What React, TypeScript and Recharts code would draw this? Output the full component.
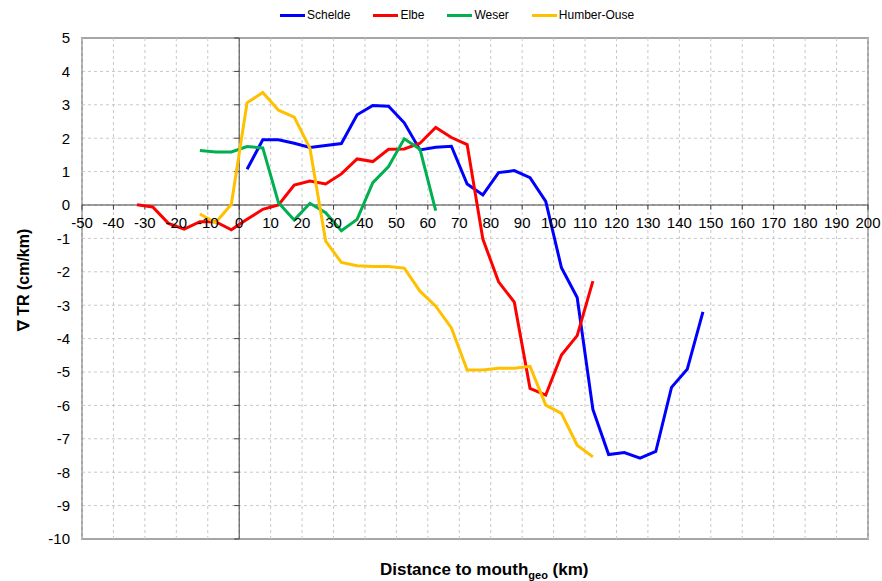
import { LineChart, Line, XAxis, YAxis, CartesianGrid, ReferenceLine, ReferenceArea, ReferenceDot } from 'recharts';

const xTicks = [-50, -40, -30, -20, -10, 0, 10, 20, 30, 40, 50, 60, 70, 80, 90, 100, 110, 120, 130, 140, 150, 160, 170, 180, 190, 200];
const yTicks = [-10, -9, -8, -7, -6, -5, -4, -3, -2, -1, 0, 1, 2, 3, 4, 5];

// Schelde
const scheldeKm = [2.5, 7.5, 12.5, 17.5, 22.5, 27.5, 32.5, 37.5, 42.5, 47.5, 52.5, 57.5, 62.5, 67.5, 72.5, 77.5, 82.5, 87.5, 92.5, 97.5, 102.5, 107.5, 112.5, 117.5, 122.5, 127.5, 132.5, 137.5, 142.5, 147.5];
const scheldeVal = [1.07, 1.95, 1.95, 1.85, 1.72, 1.78, 1.84, 2.7, 2.98, 2.96, 2.46, 1.65, 1.73, 1.76, 0.63, 0.3, 0.97, 1.03, 0.82, 0.11, -1.88, -2.77, -6.12, -7.47, -7.41, -7.58, -7.38, -5.46, -4.92, -3.2];

// Elbe
const elbeKm = [-32.5, -27.5, -22.5, -17.5, -12.5, -7.5, -2.5, 2.5, 7.5, 12.5, 17.5, 22.5, 27.5, 32.5, 37.5, 42.5, 47.5, 52.5, 57.5, 62.5, 67.5, 72.5, 77.5, 82.5, 87.5, 92.5, 97.5, 102.5, 107.5, 112.5];
const elbeVal = [0.01, -0.06, -0.55, -0.72, -0.5, -0.5, -0.74, -0.43, -0.13, 0.0, 0.6, 0.72, 0.63, 0.93, 1.38, 1.3, 1.67, 1.68, 1.85, 2.32, 2.02, 1.81, -1.02, -2.3, -2.91, -5.49, -5.69, -4.49, -3.91, -2.28];

// Weser
const weserKm = [-12.5, -7.5, -2.5, 2.5, 7.5, 12.5, 17.5, 22.5, 27.5, 32.5, 37.5, 42.5, 47.5, 52.5, 57.5, 62.5];
const weserVal = [1.63, 1.59, 1.59, 1.75, 1.71, 0.07, -0.45, 0.05, -0.23, -0.77, -0.43, 0.67, 1.15, 1.98, 1.67, -0.17];

// Humber-Ouse
const humberKm = [-12.5, -7.5, -2.5, 2.5, 7.5, 12.5, 17.5, 22.5, 27.5, 32.5, 37.5, 42.5, 47.5, 52.5, 57.5, 62.5, 67.5, 72.5, 77.5, 82.5, 87.5, 92.5, 97.5, 102.5, 107.5, 112.5];
const humberVal = [-0.27, -0.53, 0.02, 3.06, 3.37, 2.84, 2.63, 1.7, -1.08, -1.72, -1.82, -1.84, -1.84, -1.89, -2.58, -3.03, -3.68, -4.94, -4.94, -4.89, -4.89, -4.83, -5.99, -6.24, -7.19, -7.54];

const toPoints = (km: number[], val: number[]) => km.map((x, i) => ({ x, y: val[i] }));

const series = [
  { name: 'Schelde', color: '#0000ff', data: toPoints(scheldeKm, scheldeVal) },
  { name: 'Elbe', color: '#ff0000', data: toPoints(elbeKm, elbeVal) },
  { name: 'Weser', color: '#00b050', data: toPoints(weserKm, weserVal) },
  { name: 'Humber-Ouse', color: '#ffc000', data: toPoints(humberKm, humberVal) },
];

const font = '"Liberation Sans", Arial, sans-serif';

export default function App() {
  return (
    <div style={{ position: 'absolute', left: 0, top: 0, width: 882, height: 581, background: '#fff', fontFamily: font }}>
      {/* legend */}
      <div style={{ position: 'absolute', left: 280, top: 8, display: 'flex', alignItems: 'center', fontSize: 12, color: '#000' }}>
        {series.map((s) => (
          <div key={s.name} style={{ display: 'flex', alignItems: 'center', marginRight: 23 }}>
            <div style={{ width: 25, height: 3, background: s.color, marginRight: 2 }} />
            <span>{s.name}</span>
          </div>
        ))}
      </div>

      <LineChart width={882} height={581} margin={{ top: 38, right: 14, bottom: 42, left: 32 }} style={{ fontFamily: font }}>
        <CartesianGrid stroke="#c8c8c8" strokeDasharray="3 3" vertical={false} horizontalValues={yTicks} />
        <XAxis type="number" dataKey="x" domain={[-50, 200]} ticks={xTicks} tick={false} tickLine={false} axisLine={false} height={0} allowDuplicatedCategory={false} />
        <YAxis type="number" dataKey="y" domain={[-10, 5]} ticks={yTicks} width={50} tickLine={false} axisLine={false} tickMargin={6}
          tick={{ fill: '#000', fontSize: 15 }} interval={0} />
        {/* vertical dashed grid */}
        {xTicks.map((t) => (
          <ReferenceLine key={'vg' + t} x={t} stroke="#c8c8c8" strokeDasharray="3 3" strokeWidth={1} />
        ))}
        <ReferenceArea x1={-50} x2={200} y1={-10} y2={5} fill="none" fillOpacity={0} stroke="#a6a6a6" strokeWidth={2} />
        <ReferenceLine x={0} stroke="#404040" strokeWidth={1} />
        <ReferenceLine y={0} stroke="#404040" strokeWidth={1} />
        {xTicks.map((t) => (
          <ReferenceLine key={'xt' + t} segment={[{ x: t, y: 0 }, { x: t, y: -0.14 }]} stroke="#404040" strokeWidth={1} />
        ))}
        {yTicks.map((t) => (
          <ReferenceLine key={'yt' + t} segment={[{ x: -1.6, y: t }, { x: 0, y: t }]} stroke="#404040" strokeWidth={1} />
        ))}
        {xTicks.map((t) => (
          <ReferenceDot key={'xl' + t} x={t} y={0} r={0} fill="none" stroke="none"
            label={{ value: String(t), position: 'bottom', offset: 12, fill: '#000', fontSize: 15 }} />
        ))}
        {series.map((s) => (
          <Line key={s.name} data={s.data} dataKey="y" name={s.name} type="linear" stroke={s.color} strokeWidth={3}
            dot={false} activeDot={false} isAnimationActive={false} />
        ))}
      </LineChart>

      {/* axis titles */}
      <div style={{ position: 'absolute', left: 23, top: 280, transform: 'translate(-50%, -50%) rotate(-90deg)', whiteSpace: 'nowrap',
        fontWeight: 'bold', fontSize: 16, color: '#000' }}>
        ∇ TR (cm/km)
      </div>
      <div style={{ position: 'absolute', left: 380, top: 561, whiteSpace: 'nowrap', fontWeight: 'bold', fontSize: 17, lineHeight: 1, color: '#000' }}>
        Distance to mouth<sub style={{ fontSize: 11 }}>geo</sub> (km)
      </div>
    </div>
  );
}
